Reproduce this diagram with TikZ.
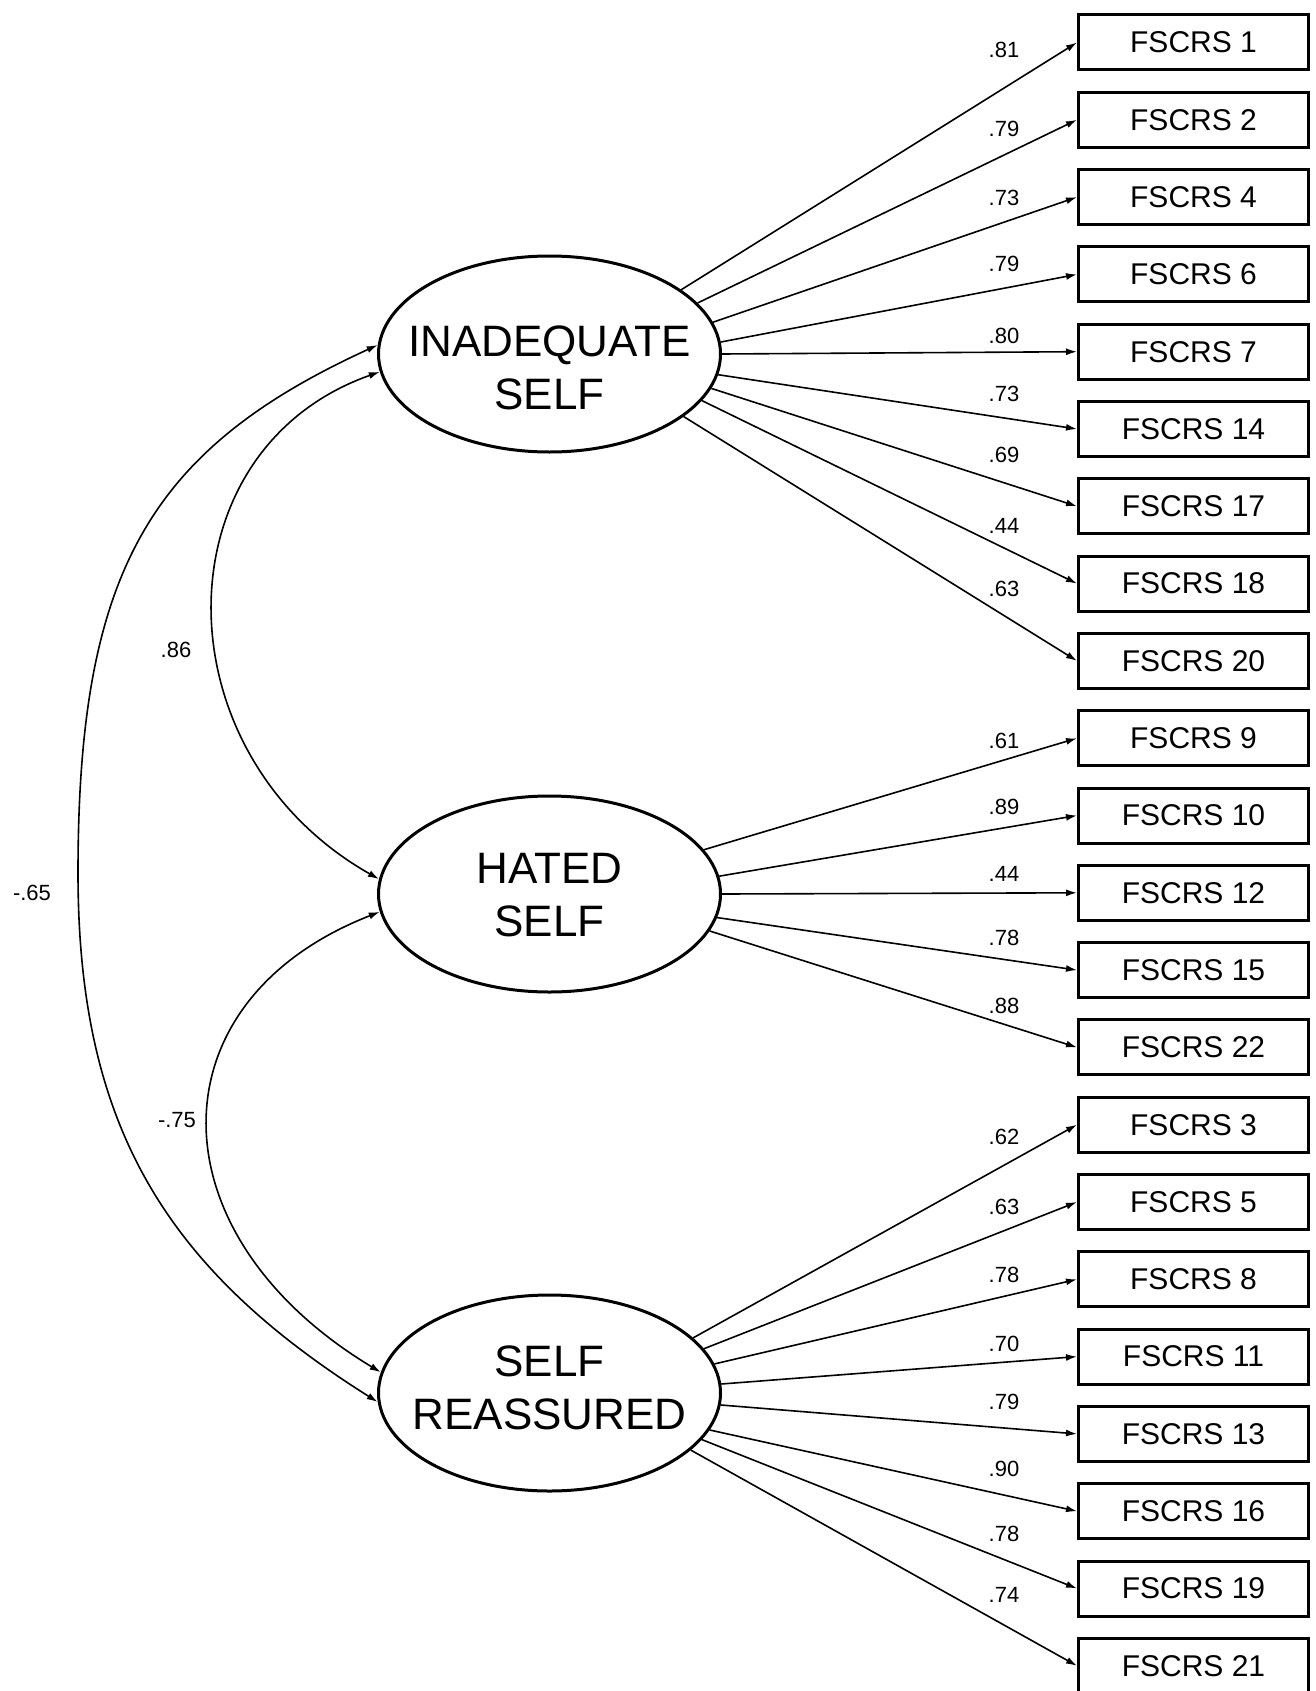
\documentclass[tikz,border=0pt]{standalone}
\usepackage{fontspec}
\setmainfont{Liberation Sans}
\usetikzlibrary{arrows.meta,shapes.geometric}
\tikzset{
  latent/.style={ellipse, draw, line width=3pt, minimum width=342pt, minimum height=196pt, inner sep=0pt},
  lattext/.style={align=center, inner sep=0pt, font=\fontsize{44}{53}\selectfont},
  obsbox/.style={draw, line width=3pt, minimum width=230pt, minimum height=55pt, inner sep=0pt, font=\fontsize{30}{36}\selectfont},
  load/.style={line width=1.6pt, -{Latex[length=11pt,width=7pt]}},
  covar/.style={line width=1.6pt, {Latex[length=11pt,width=7pt]}-{Latex[length=11pt,width=7pt]}},
  lab/.style={inner sep=0pt, font=\fontsize{22}{26}\selectfont},
}
\begin{document}
\begin{tikzpicture}[x=1pt,y=-1pt]
\fill[white] (0,0) rectangle (1316,1691);
\useasboundingbox (0,0) rectangle (1316,1691);

% latent variables
\node[latent] (inad) at (549.5,354) {};
\node[latent] (hated) at (549.5,894) {};
\node[latent] (selfr) at (549.5,1393) {};
\node[lattext] (inadtext) at (549.5,368) {INADEQUATE\\SELF};
\node[lattext] (hatedtext) at (549.5,895) {HATED\\SELF};
\node[lattext] (selfrtext) at (549.5,1388) {SELF\\REASSURED};

% observed variables
\foreach \k/\n in {0/1,1/2,2/4,3/6,4/7,5/14,6/17,7/18,8/20,9/9,10/10,11/12,12/15,13/22,14/3,15/5,16/8,17/11,18/13,19/16,20/19,21/21}{
  \node[obsbox] (b\k) at (1193.5,{42.5+77.3*\k}) {FSCRS \n};
}

% loadings
\foreach \src/\ang/\k/\val/\ly in {
  inad/26/0/.81/50, inad/19/1/.79/129, inad/11.7/2/.73/198, inad/4.7/3/.79/264,
  inad/-0.3/4/.80/336, inad/-7.7/5/.73/394, inad/-12.4/6/.69/455, inad/-17.5/7/.44/526,
  inad/-25.5/8/.63/589,
  hated/16.2/9/.61/741, hated/6/10/.89/807, hated/0/11/.44/874, hated/-8.2/12/.78/938,
  hated/-13.7/13/.88/1006,
  selfr/21/14/.62/1137, selfr/16/15/.63/1207, selfr/10.2/16/.78/1275, selfr/3.6/17/.70/1344,
  selfr/-4.6/18/.79/1402, selfr/-13.3/19/.90/1469, selfr/-17.6/20/.78/1534, selfr/-22.7/21/.74/1595}{
  \draw[load] (\src.\ang) -- (b\k.west);
  \node[lab] (l\k) at (1004,\ly) {\val};
}

% covariances
\draw[covar] (inad.177) .. controls (148.5,449.75) and (78,573) .. (78,873)
  .. controls (78,1123) and (163,1267) .. (selfr.183);
\draw[covar] (inad.186) .. controls (158,450) and (158,754) .. (hated.175);
\draw[covar] (hated.186) .. controls (151,1001) and (151,1234) .. (selfr.173);

\node[lab] (c1) at (32,893) {-.65};
\node[lab] (c2) at (176,650) {.86};
\node[lab] (c3) at (177,1120) {-.75};
\end{tikzpicture}
\end{document}
